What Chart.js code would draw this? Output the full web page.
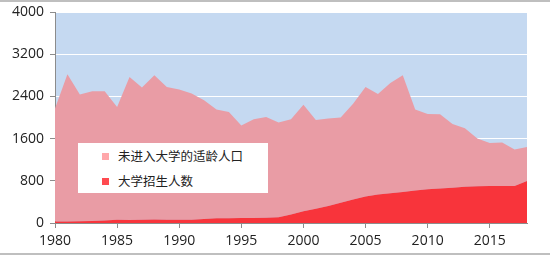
<!DOCTYPE html>
<html>
<head>
<meta charset="utf-8">
<script src="https://cdn.jsdelivr.net/npm/chart.js@4"></script>
<style>
  html, body { margin: 0; padding: 0; background: #fff; }
  #wrap { position: relative; width: 550px; height: 256px; }
  #linea-top { position: absolute; left: 0; top: 0; width: 550px; height: 2px; background: #bfbfbf; }
  #linea-bot { position: absolute; left: 0; top: 253px; width: 550px; height: 2px; background: #bfbfbf; }
  #leyenda {
    position: absolute; left: 78px; top: 143px; width: 190px; height: 50px;
    background: #fff; font-family: "Noto Sans CJK SC", sans-serif; font-size: 12.5px; color: #222;
  }
  .item { position: absolute; left: 24px; height: 20px; line-height: 20px; white-space: nowrap; }
  .item span { display: inline-block; width: 7px; height: 7px; margin-right: 9px; vertical-align: 1px; }
</style>
</head>
<body>
<div id="wrap">
  <canvas id="grafico" width="550" height="256"></canvas>
  <div id="linea-top"></div>
  <div id="linea-bot"></div>
  <div id="leyenda">
    <div class="item" style="top:3px"><span style="background:#ffa7aa"></span>未进入大学的适龄人口</div>
    <div class="item" style="top:28px"><span style="background:#ff4a50"></span>大学招生人数</div>
  </div>
</div>
<script>
// años 1980-2018
const anios = [];
for (let a = 1980; a <= 2018; a++) anios.push(String(a));

// 大学招生人数 (万人)
const matricula = [28, 28, 32, 39, 48, 62, 57, 62, 67, 60, 61, 62, 75, 92, 90, 93, 97, 100, 108, 160,
  221, 268, 320, 382, 447, 504, 540, 565, 590, 615, 640, 655, 670, 685, 695, 700, 700, 700, 795];

// 未进入大学的适龄人口 (apilado encima)
const noUniversidad = [2142, 2792, 2402, 2458, 2449, 2137, 2711, 2505, 2733, 2518, 2468, 2391, 2251, 2058, 2014, 1753, 1869, 1909, 1798, 1806,
  2023, 1685, 1659, 1616, 1816, 2074, 1906, 2089, 2210, 1535, 1427, 1406, 1207, 1110, 905, 817, 824, 691, 646];

const ticksY = [0, 800, 1600, 2400, 3200, 4000];

// fondo azul del área de trazado
const fondo = {
  id: "fondo",
  beforeDraw(c) {
    const { ctx, chartArea: a } = c;
    ctx.save();
    ctx.fillStyle = "#c5d9f1";
    ctx.fillRect(a.left, a.top, a.right - a.left, a.bottom - a.top);
    ctx.restore();
  }
};

const fuente = { family: "Open Sans", size: 14 };

new Chart(document.getElementById("grafico").getContext("2d"), {
  type: "line",
  data: {
    labels: anios,
    datasets: [
      {
        label: "大学招生人数",
        data: matricula,
        fill: "origin",
        backgroundColor: "#f8343b",
        borderWidth: 0,
        pointRadius: 0,
        tension: 0,
        order: 1
      },
      {
        label: "未进入大学的适龄人口",
        data: noUniversidad,
        fill: "-1",
        backgroundColor: "#e99ca5",
        borderWidth: 0,
        pointRadius: 0,
        tension: 0,
        order: 2
      }
    ]
  },
  options: {
    responsive: false,
    animation: false,
    layout: { padding: { top: 12, right: 23, left: 0, bottom: 0 } },
    plugins: { legend: { display: false }, tooltip: { enabled: false } },
    scales: {
      x: {
        offset: false,
        ticks: {
          autoSkip: false, maxRotation: 0, color: "#222", font: fuente, padding: 5,
          callback: (v, i) => (i % 5 === 0 ? anios[i] : "")
        },
        grid: {
          drawOnChartArea: false, tickLength: 5,
          color: ctx => (ctx.index % 5 === 0 ? "#8c8c8c" : "rgba(0,0,0,0)")
        },
        border: { color: "#8c8c8c" },
        afterFit: s => { s.height = 33; }
      },
      y: {
        stacked: true,
        min: 0, max: 4000,
        afterBuildTicks: s => { s.ticks = ticksY.map(v => ({ value: v })); },
        ticks: { color: "#222", font: fuente, padding: 6, callback: v => String(v) },
        grid: { color: "#ffffff", tickColor: "#8c8c8c", tickLength: 5, lineWidth: 1 },
        border: { color: "#8c8c8c" },
        afterFit: s => { s.width = 55; s.paddingTop = 0; s.paddingBottom = 0; }
      }
    }
  },
  plugins: [fondo]
});
</script>
</body>
</html>
